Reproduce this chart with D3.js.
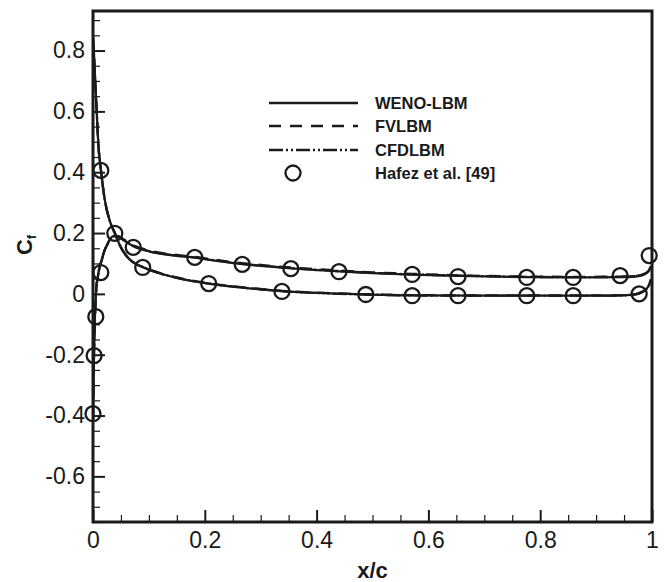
<!DOCTYPE html>
<html>
<head>
<meta charset="utf-8">
<script src="https://cdn.jsdelivr.net/npm/d3@7"></script>
<style>
  html, body { margin: 0; padding: 0; background: #fff; }
  svg { display: block; font-family: "Liberation Sans", Arial, Helvetica, sans-serif; }
</style>
</head>
<body>
<svg id="chart" width="665" height="582"></svg>
<script>
// ---------------- data ----------------
const xTicks = [0, 0.2, 0.4, 0.6, 0.8, 1];
const xTickLabels = ["0", "0.2", "0.4", "0.6", "0.8", "1"];
const yTicks = [0.8, 0.6, 0.4, 0.2, 0, -0.2, -0.4, -0.6];
const yTickLabels = ["0.8", "0.6", "0.4", "0.2", "0", "-0.2", "-0.4", "-0.6"];

// surface starting at high Cf at the leading edge
const xA = [0, 0.002, 0.004, 0.0066, 0.01, 0.014, 0.021, 0.03, 0.039, 0.05, 0.063, 0.075, 0.09, 0.12, 0.15, 0.207, 0.25, 0.3, 0.338, 0.4, 0.488, 0.57, 0.7, 0.8, 0.9, 0.95, 0.97, 0.98, 0.99, 0.995, 0.998];
const wenoA  = [0.85, 0.78, 0.7, 0.6, 0.48, 0.41, 0.31, 0.24, 0.2, 0.152, 0.118, 0.1, 0.087, 0.067, 0.053, 0.034, 0.024, 0.015, 0.009, 0.003, -0.002, -0.005, -0.006, -0.006, -0.006, -0.005, -0.002, 0.004, 0.016, 0.03, 0.045];
const fvA    = [0.84, 0.78, 0.7, 0.6, 0.48, 0.41, 0.31, 0.24, 0.2, 0.153, 0.119, 0.101, 0.088, 0.068, 0.054, 0.035, 0.025, 0.016, 0.01, 0.004, -0.001, -0.004, -0.005, -0.005, -0.005, -0.004, -0.001, 0.005, 0.018, 0.032, 0.048];
const cfdA   = [0.83, 0.77, 0.69, 0.6, 0.48, 0.41, 0.31, 0.24, 0.2, 0.152, 0.118, 0.1, 0.087, 0.067, 0.053, 0.034, 0.024, 0.015, 0.009, 0.003, -0.002, -0.005, -0.006, -0.006, -0.006, -0.005, -0.002, 0.004, 0.017, 0.031, 0.046];

// surface starting at negative Cf at the leading edge
const xB = [0, 0.0008, 0.0018, 0.003, 0.0045, 0.006, 0.009, 0.012, 0.0155, 0.02, 0.025, 0.03, 0.036, 0.045, 0.055, 0.072, 0.1, 0.15, 0.182, 0.2, 0.267, 0.3, 0.354, 0.44, 0.5, 0.571, 0.653, 0.776, 0.86, 0.943, 0.97, 0.98, 0.99, 0.995, 0.998];
const wenoB  = [-0.42, -0.3, -0.2, -0.1, -0.03, 0.02, 0.06, 0.09, 0.11, 0.14, 0.16, 0.178, 0.19, 0.188, 0.176, 0.157, 0.14, 0.125, 0.119, 0.114, 0.098, 0.092, 0.084, 0.074, 0.068, 0.063, 0.059, 0.055, 0.054, 0.055, 0.057, 0.06, 0.068, 0.078, 0.09];
const fvB    = [-0.41, -0.3, -0.2, -0.1, -0.03, 0.02, 0.06, 0.09, 0.11, 0.14, 0.16, 0.179, 0.191, 0.19, 0.179, 0.16, 0.143, 0.128, 0.122, 0.117, 0.101, 0.095, 0.087, 0.077, 0.071, 0.066, 0.061, 0.057, 0.056, 0.057, 0.059, 0.062, 0.07, 0.08, 0.092];
const cfdB   = [-0.42, -0.3, -0.2, -0.1, -0.03, 0.02, 0.06, 0.09, 0.11, 0.14, 0.16, 0.178, 0.19, 0.189, 0.178, 0.158, 0.141, 0.126, 0.12, 0.115, 0.099, 0.093, 0.085, 0.075, 0.069, 0.064, 0.06, 0.056, 0.055, 0.056, 0.058, 0.061, 0.069, 0.079, 0.091];

// reference data (Hafez et al.)
const hafezX = [0, 0.002, 0.005, 0.014, 0.014, 0.039, 0.072, 0.089, 0.182, 0.207, 0.267, 0.338, 0.354, 0.44, 0.488, 0.571, 0.571, 0.653, 0.653, 0.776, 0.776, 0.859, 0.859, 0.943, 0.977, 0.995];
const hafezY = [-0.394, -0.203, -0.075, 0.406, 0.07, 0.199, 0.153, 0.087, 0.12, 0.034, 0.097, 0.008, 0.083, 0.073, -0.002, 0.064, -0.006, 0.057, -0.006, 0.054, -0.006, 0.054, -0.006, 0.06, 0.0, 0.126];

const seriesNames = ["WENO-LBM", "FVLBM", "CFDLBM"];
const refName = "Hafez et al. [49]";

// ---------------- layout ----------------
const L = 93, R = 652, T = 11, B = 522;
const svg = d3.select("#chart");
const ink = "#1a1a1a";

const x = d3.scaleLinear().domain([0, 1]).range([L, R]);
const y = d3.scaleLinear().domain([-0.75, 0.93]).range([B, T]);

svg.append("defs").append("clipPath").attr("id", "clip")
  .append("rect").attr("x", L).attr("y", T).attr("width", R - L).attr("height", B - T);

const xMinor = d3.range(0, 1.0001, 0.05).filter(v => Math.abs(v * 5 - Math.round(v * 5)) > 1e-6);
const yMinor = d3.range(-0.75, 0.93, 0.05).map(v => +v.toFixed(2)).filter(v => Math.abs(v * 5 - Math.round(v * 5)) > 1e-6);

const gx = svg.append("g").attr("transform", `translate(0,${B})`)
  .call(d3.axisBottom(x).tickValues(xTicks).tickFormat((d, i) => xTickLabels[i]).tickSizeInner(-12).tickSizeOuter(0).tickPadding(14));
gx.select(".domain").remove();
gx.selectAll(".tick line").attr("stroke", ink).attr("stroke-width", 2);
gx.selectAll(".tick text").attr("font-size", 23).attr("fill", ink).attr("dy", "0.71em").attr("y", 10);

const gxm = svg.append("g").attr("transform", `translate(0,${B})`)
  .call(d3.axisBottom(x).tickValues(xMinor).tickFormat("").tickSizeInner(-7).tickSizeOuter(0));
gxm.select(".domain").remove();
gxm.selectAll(".tick line").attr("stroke", ink).attr("stroke-width", 1.2);

const gy = svg.append("g").attr("transform", `translate(${L},0)`)
  .call(d3.axisLeft(y).tickValues(yTicks).tickFormat((d, i) => yTickLabels[i]).tickSizeInner(-12).tickSizeOuter(0).tickPadding(8));
gy.select(".domain").remove();
gy.selectAll(".tick line").attr("stroke", ink).attr("stroke-width", 2);
gy.selectAll(".tick text").attr("font-size", 23).attr("fill", ink).attr("x", -8);

const gym = svg.append("g").attr("transform", `translate(${L},0)`)
  .call(d3.axisLeft(y).tickValues(yMinor).tickFormat("").tickSizeInner(-7).tickSizeOuter(0));
gym.select(".domain").remove();
gym.selectAll(".tick line").attr("stroke", ink).attr("stroke-width", 1.2);

const plot = svg.append("g").attr("clip-path", "url(#clip)");
const lineGen = (xs) => d3.line().x((d, i) => x(xs[i])).y(d => y(d)).curve(d3.curveMonotoneX);
const dashes = [null, "12,9", "14,3,2,3,2,3"];
[[wenoA, wenoB], [fvA, fvB], [cfdA, cfdB]].forEach((pair, k) => {
  plot.append("path").attr("d", lineGen(xA)(pair[0])).attr("fill", "none").attr("stroke", ink)
    .attr("stroke-width", 2.3).attr("stroke-dasharray", dashes[k]);
  plot.append("path").attr("d", lineGen(xB)(pair[1])).attr("fill", "none").attr("stroke", ink)
    .attr("stroke-width", 2.3).attr("stroke-dasharray", dashes[k]);
});

svg.append("g").selectAll("circle").data(hafezX).join("circle")
  .attr("cx", (d) => x(d)).attr("cy", (d, i) => y(hafezY[i])).attr("r", 7.5)
  .attr("fill", "none").attr("stroke", ink).attr("stroke-width", 2.3);

svg.append("rect").attr("x", L).attr("y", T).attr("width", R - L).attr("height", B - T)
  .attr("fill", "none").attr("stroke", ink).attr("stroke-width", 3);

svg.append("text").attr("x", (L + R) / 2).attr("y", 578).attr("text-anchor", "middle")
  .attr("font-size", 22).attr("font-weight", "bold").attr("fill", ink).text("x/c");
const yt = svg.append("text").attr("transform", "translate(32,245) rotate(-90)").attr("text-anchor", "middle")
  .attr("font-size", 22).attr("font-weight", "bold").attr("fill", ink);
yt.append("tspan").text("C");
yt.append("tspan").attr("font-size", 13).attr("dy", 4).text("f");

const legY = [103, 126, 150, 173];
const lg = svg.append("g");
seriesNames.forEach((n, k) => {
  lg.append("line").attr("x1", 269).attr("x2", 358).attr("y1", legY[k]).attr("y2", legY[k])
    .attr("stroke", ink).attr("stroke-width", 2.3).attr("stroke-dasharray", dashes[k]);
  lg.append("text").attr("x", 375).attr("y", legY[k]).attr("dy", "0.36em")
    .attr("font-size", 16.5).attr("font-weight", "bold").attr("fill", ink).text(n);
});
lg.append("circle").attr("cx", 293).attr("cy", legY[3]).attr("r", 7.5).attr("fill", "none")
  .attr("stroke", ink).attr("stroke-width", 2.3);
lg.append("text").attr("x", 375).attr("y", legY[3]).attr("dy", "0.36em")
  .attr("font-size", 16.5).attr("font-weight", "bold").attr("fill", ink).text(refName);
</script>
</body>
</html>
